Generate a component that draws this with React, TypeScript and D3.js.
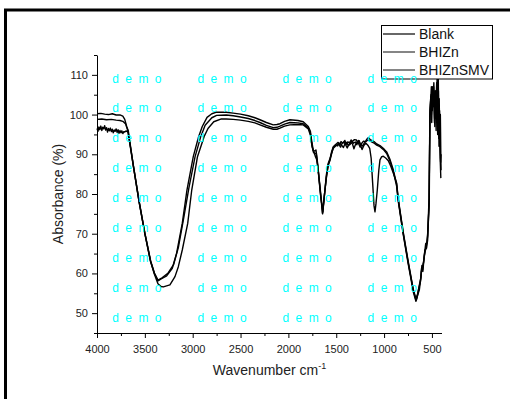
import { useEffect, useRef } from 'react';
import * as d3 from 'd3';

const WIDTH = 510;
const HEIGHT = 399;
const FONT = "Arial, 'Liberation Sans', sans-serif";

const seriesNames = ['Blank', 'BHIZn', 'BHIZnSMV'];

// [wavenumber, absorbance %]
const blank: [number, number][] = [
  [4000, 100.2], [3960, 100.3], [3920, 100.1], [3880, 100.0], [3840, 100.2], [3800, 99.9], [3760, 99.9],
  [3730, 99.6], [3710, 98.8], [3690, 97.0], [3673, 95.9], [3620, 87.0], [3560, 78.0], [3500, 70.0],
  [3440, 63.0], [3400, 60.0], [3363, 58.1], [3330, 58.6], [3272, 59.4], [3213, 61.3], [3168, 65.1],
  [3109, 72.6], [3060, 81.0], [2994, 89.4], [2940, 94.3], [2900, 97.0], [2850, 99.3], [2800, 100.2],
  [2750, 100.6], [2650, 100.6], [2577, 100.35], [2500, 100.1], [2419, 99.7], [2350, 99.2], [2297, 98.7],
  [2230, 98.0], [2158, 97.4], [2120, 97.5], [2088, 97.7], [2040, 98.3], [1984, 98.7], [1900, 98.5],
  [1845, 98.2], [1792, 97.0], [1770, 95.8], [1758, 93.6], [1740, 91.0], [1725, 90.8], [1712, 91.1],
  [1700, 89.0], [1685, 85.0], [1665, 80.0], [1643, 75.2], [1625, 79.5], [1601, 84.4], [1585, 87.3],
  [1566, 88.6], [1550, 90.5], [1531, 91.9], [1500, 92.6], [1480, 93.0], [1465, 92.3], [1450, 93.2],
  [1430, 92.8], [1410, 93.5], [1395, 92.5], [1380, 93.1], [1360, 92.9], [1345, 93.6], [1330, 93.2],
  [1310, 93.7], [1290, 93.6], [1270, 92.9], [1250, 91.8], [1235, 92.7], [1215, 93.3], [1195, 93.2],
  [1180, 93.8], [1166, 94.2], [1140, 93.6], [1100, 93.1], [1077, 92.6], [1043, 92.2], [1000, 91.3],
  [973, 90.6], [940, 88.8], [904, 86.1], [869, 82.5], [852, 78.5], [800, 70.1], [747, 62.6], [695, 55.8],
  [667, 53.3], [650, 54.5], [632, 55.8], [618, 58.4], [608, 61.3], [597, 60.9], [573, 65.9], [556, 66.4],
  [545, 68.4], [528, 78.5], [521, 101], [512, 104.5], [505, 100], [498, 106.5], [490, 102], [482, 107],
  [474, 98], [466, 105], [458, 103], [450, 108], [443, 99], [436, 112], [430, 96], [424, 104], [418, 93],
  [412, 100], [405, 86],
];

const bhizn: [number, number][] = [
  [4000, 98.8], [3950, 98.9], [3900, 98.7], [3850, 98.8], [3800, 98.6], [3760, 98.5], [3730, 98.3],
  [3700, 97.6], [3676, 95.8], [3620, 87.2], [3560, 78.2], [3500, 70.2], [3440, 63.2], [3400, 60.1],
  [3363, 58.3], [3320, 58.9], [3260, 60.0], [3200, 62.2], [3150, 66.5], [3090, 74.5], [3040, 81.5],
  [2975, 89.4], [2915, 94.5], [2870, 97.3], [2800, 99.2], [2750, 99.8], [2650, 99.9], [2577, 99.7],
  [2500, 99.4], [2419, 99.0], [2350, 98.5], [2297, 98.0], [2230, 97.3], [2158, 96.7], [2120, 96.8],
  [2088, 97.1], [2040, 97.6], [1984, 98.0], [1900, 97.9], [1845, 97.7], [1792, 96.7], [1770, 95.3],
  [1755, 92.5], [1738, 90.5], [1722, 90.3], [1708, 90.0], [1695, 87.5], [1680, 84.0], [1660, 79.0],
  [1640, 75.5], [1622, 80.0], [1603, 84.8], [1585, 87.6], [1566, 88.9], [1548, 90.3], [1531, 91.5],
  [1500, 92.2], [1475, 92.6], [1455, 91.8], [1440, 92.7], [1420, 93.1], [1400, 92.3], [1385, 91.6],
  [1370, 92.4], [1350, 93.0], [1330, 92.6], [1315, 91.4], [1300, 92.4], [1280, 93.2], [1260, 93.4],
  [1245, 92.2], [1230, 91.2], [1210, 92.3], [1190, 92.8], [1170, 92.3], [1150, 91.5], [1135, 89.0],
  [1120, 83.0], [1105, 77.0], [1095, 75.5], [1085, 77.5], [1071, 81.0], [1055, 86.0], [1043, 88.6],
  [1025, 89.4], [1008, 89.5], [980, 89.0], [956, 88.4], [930, 87.0], [904, 85.3], [869, 82.8],
  [852, 78.8], [800, 70.4], [747, 62.9], [695, 56.0], [667, 53.6], [650, 54.8], [635, 56.5], [620, 58.0],
  [610, 60.5], [600, 61.5], [590, 62.5], [575, 65.0], [558, 67.0], [545, 69.5], [530, 79.0], [520, 100],
  [510, 105], [502, 98], [495, 107], [486, 103], [478, 106], [470, 97], [462, 106], [454, 101],
  [446, 109], [440, 95], [432, 106], [426, 92], [420, 101], [414, 89], [407, 84],
];

const bhiznSmv: [number, number][] = [
  [4000, 96.5], [3990, 95.8], [3980, 96.9], [3970, 96.2], [3960, 97.1], [3950, 96.0], [3940, 96.8],
  [3930, 96.4], [3920, 97.2], [3910, 96.1], [3900, 96.7], [3890, 95.6], [3880, 96.5], [3870, 95.9],
  [3860, 96.6], [3850, 95.7], [3840, 96.3], [3830, 95.4], [3820, 96.1], [3810, 95.8], [3800, 96.4],
  [3790, 95.5], [3780, 96.2], [3770, 95.3], [3760, 96.0], [3750, 95.4], [3740, 95.9], [3730, 95.2],
  [3720, 95.7], [3710, 95.6], [3695, 95.9], [3676, 95.6], [3620, 87.0], [3560, 78.0], [3500, 70.0],
  [3440, 63.0], [3400, 59.8], [3363, 57.4], [3330, 56.7], [3307, 56.6], [3238, 57.1], [3185, 59.2],
  [3150, 61.7], [3109, 65.9], [3052, 72.6], [3010, 81.0], [2950, 89.4], [2880, 94.5], [2840, 96.5],
  [2780, 98.2], [2700, 98.9], [2650, 98.9], [2577, 98.8], [2500, 98.6], [2419, 98.3], [2350, 97.9],
  [2297, 97.4], [2230, 96.8], [2158, 96.3], [2120, 96.3], [2088, 96.6], [2040, 97.1], [1984, 97.4],
  [1900, 97.5], [1845, 97.4], [1792, 96.4], [1770, 94.8], [1752, 91.8], [1735, 90.6], [1720, 89.6],
  [1705, 88.7], [1690, 86.5], [1675, 83.0], [1655, 78.5], [1643, 75.0], [1627, 78.8], [1605, 84.0],
  [1585, 87.1], [1566, 88.4], [1548, 90.2], [1531, 91.7], [1505, 92.4], [1485, 92.1], [1470, 92.8],
  [1450, 92.5], [1425, 91.7], [1410, 92.6], [1390, 93.0], [1375, 92.2], [1355, 92.5], [1340, 93.3],
  [1320, 92.8], [1300, 93.1], [1285, 92.4], [1265, 93.5], [1250, 92.6], [1225, 92.1], [1205, 92.9],
  [1185, 93.3], [1170, 93.6], [1150, 93.4], [1110, 92.9], [1077, 92.3], [1043, 91.9], [1000, 91.0],
  [973, 90.2], [940, 88.4], [904, 85.7], [869, 82.0], [852, 78.2], [800, 69.8], [747, 62.3], [695, 55.4],
  [667, 53.0], [655, 53.8], [640, 56.0], [628, 57.5], [615, 59.0], [605, 62.0], [595, 60.5], [580, 64.5],
  [565, 67.5], [550, 67.8], [540, 72.0], [530, 77.0], [522, 99], [514, 103], [506, 107], [497, 101],
  [489, 104], [480, 108], [472, 99], [464, 104], [456, 96], [448, 107], [441, 100], [434, 111],
  [428, 94], [421, 98], [415, 91], [409, 88], [404, 90],
];

const allSeries = [blank, bhizn, bhiznSmv];

const xDomain: [number, number] = [4000, 400];
const yDomain: [number, number] = [45, 115];
const xMajorTicks = [4000, 3500, 3000, 2500, 2000, 1500, 1000, 500];
const xMinorTicks = [3750, 3250, 2750, 2250, 1750, 1250, 750];
const yMajorTicks = [50, 60, 70, 80, 90, 100, 110];
const yMinorTicks = [45, 55, 65, 75, 85, 95, 105, 115];

export default function App() {
  const svgRef = useRef<SVGSVGElement>(null);

  useEffect(() => {
    if (!svgRef.current) return;
    const svg = d3.select(svgRef.current);
    svg.selectAll('*').remove();

    const x = d3.scaleLinear().domain(xDomain).range([97, 441.5]);
    const y = d3.scaleLinear().domain(yDomain).range([333, 55]);

    svg.append('rect').attr('width', WIDTH).attr('height', HEIGHT).attr('fill', '#fff');

    // outer frame
    svg.append('rect')
      .attr('x', 5.5).attr('y', 10).attr('width', 540).attr('height', 420)
      .attr('fill', 'none').attr('stroke', '#000').attr('stroke-width', 3);

    // spectra
    const line = d3.line<[number, number]>()
      .x(d => x(d[0]))
      .y(d => y(d[1]));

    svg.append('g')
      .selectAll('path')
      .data(allSeries)
      .enter()
      .append('path')
      .attr('d', d => line(d) || '')
      .attr('fill', 'none')
      .attr('stroke', '#000')
      .attr('stroke-width', 1.4)
      .attr('stroke-linejoin', 'round');

    // axes
    const xAxis = svg.append('g')
      .attr('transform', 'translate(0,333)')
      .call(d3.axisBottom(x).tickValues(xMajorTicks).tickSize(5).tickSizeOuter(0).tickPadding(7).tickFormat(d3.format('d')));
    svg.append('g')
      .attr('transform', 'translate(0,333)')
      .call(d3.axisBottom(x).tickValues(xMinorTicks).tickSize(3).tickSizeOuter(0).tickFormat(() => ''))
      .select('.domain').remove();

    const yAxis = svg.append('g')
      .attr('transform', 'translate(97,0)')
      .call(d3.axisLeft(y).tickValues(yMajorTicks).tickSize(5).tickSizeOuter(0).tickPadding(4));
    svg.append('g')
      .attr('transform', 'translate(97,0)')
      .call(d3.axisLeft(y).tickValues(yMinorTicks).tickSize(3).tickSizeOuter(0).tickFormat(() => ''))
      .select('.domain').remove();

    [xAxis, yAxis].forEach(a => {
      a.selectAll('text').attr('font-family', FONT).attr('font-size', 11).attr('fill', '#222');
    });
    svg.selectAll('.domain, .tick line').attr('stroke', '#000');

    // axis titles
    svg.append('text')
      .attr('transform', 'translate(62.5,194) rotate(-90)')
      .attr('text-anchor', 'middle')
      .attr('font-family', FONT)
      .attr('font-size', 14)
      .attr('fill', '#222')
      .text('Absorbance (%)');

    const xt = svg.append('text')
      .attr('x', 269.5).attr('y', 375)
      .attr('text-anchor', 'middle')
      .attr('font-family', FONT)
      .attr('font-size', 14)
      .attr('fill', '#222');
    xt.append('tspan').text('Wavenumber cm');
    xt.append('tspan').attr('font-size', 9).attr('dy', -6).text('-1');

    // legend
    const lg = svg.append('g');
    lg.append('rect')
      .attr('x', 381.5).attr('y', 25.5).attr('width', 111).attr('height', 53.5)
      .attr('fill', '#fff').attr('stroke', '#000').attr('stroke-width', 1);
    seriesNames.forEach((name, i) => {
      const cy = 34 + i * 18;
      lg.append('line')
        .attr('x1', 383).attr('x2', 415).attr('y1', cy).attr('y2', cy)
        .attr('stroke', i === 0 ? '#000' : '#333').attr('stroke-width', 1.2);
      lg.append('text')
        .attr('x', 419).attr('y', cy + 4.8)
        .attr('font-family', FONT).attr('font-size', 14).attr('fill', '#111')
        .text(name);
    });

    // watermark
    const wm = svg.append('g');
    d3.range(9).forEach(r => {
      d3.range(4).forEach(c => {
        wm.append('text')
          .attr('x', 112.3 + c * 85.1)
          .attr('y', 82.5 + r * 29.875)
          .attr('font-family', FONT)
          .attr('font-size', 12)
          .attr('letter-spacing', 6.4)
          .attr('fill', '#00ffff')
          .text('demo');
      });
    });
  }, []);

  return (
    <svg
      ref={svgRef}
      width={WIDTH}
      height={HEIGHT}
      style={{ position: 'absolute', left: 0, top: 0, display: 'block' }}
    />
  );
}
